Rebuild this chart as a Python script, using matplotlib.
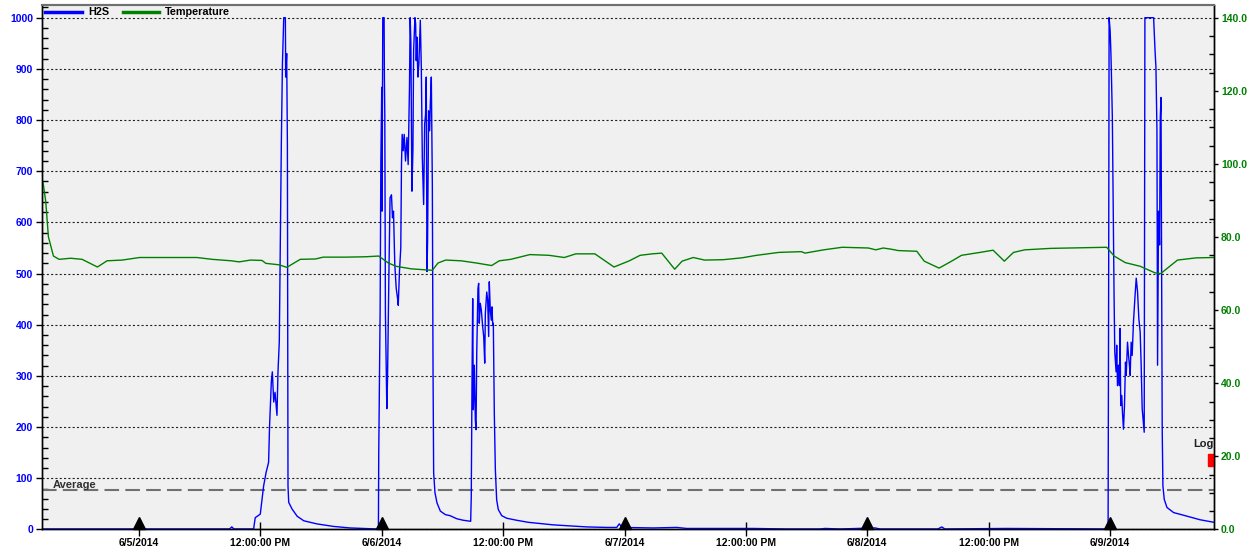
import matplotlib
matplotlib.use("Agg")
import matplotlib.pyplot as plt
from matplotlib.ticker import MultipleLocator, FormatStrFormatter
from matplotlib.lines import Line2D
from matplotlib.patches import Rectangle

# hours counted from 6/5/2014 00:00
h2s_hours = [-9.59, 8.95, 9.17, 9.39, 11.33, 11.49, 11.99, 12.16, 12.32, 12.56, 12.81, 12.91,
             13.08, 13.18, 13.32, 13.45, 13.64, 13.74, 13.87, 13.97, 14.07, 14.18, 14.31,
             14.47, 14.50, 14.60, 14.67, 14.73, 14.80, 15.13, 15.63, 16.29, 17.57, 19.21,
             20.86, 23.50, 23.67, 23.70, 23.84, 23.91, 24.00, 24.03, 24.10, 24.23, 24.26,
             24.30, 24.36, 24.50, 24.57, 24.70, 24.82, 24.96, 25.06, 25.16, 25.29, 25.43,
             25.56, 25.63, 25.75, 25.88, 25.95, 26.02, 26.12, 26.22, 26.35, 26.49, 26.61,
             26.74, 26.81, 26.88, 26.98, 27.08, 27.15, 27.28, 27.35, 27.41, 27.47, 27.57,
             27.67, 27.81, 27.91, 28.01, 28.14, 28.24, 28.33, 28.40, 28.47, 28.53, 28.63,
             28.73, 28.80, 28.90, 29.00, 29.07, 29.13, 29.26, 29.46, 29.79, 30.29, 30.75,
             31.41, 32.06, 32.79, 32.85, 32.92, 32.99, 33.05, 33.15, 33.25, 33.32, 33.39,
             33.51, 33.58, 33.64, 33.74, 33.84, 33.98, 34.08, 34.18, 34.24, 34.38, 34.47,
             34.57, 34.63, 34.73, 34.83, 34.90, 34.97, 35.03, 35.13, 35.23, 35.36, 35.52,
             35.86, 36.35, 37.34, 38.49, 40.96, 44.26, 46.24, 47.23, 47.48, 47.75, 50.85,
             53.16, 54.15, 60.73, 64.03, 67.33, 67.82, 69.30, 72.76, 73.26, 78.99, 79.36,
             79.68, 85.68, 95.67, 95.81, 95.87, 95.91, 96.01, 96.08, 96.13, 96.23, 96.33,
             96.40, 96.47, 96.60, 96.66, 96.74, 96.84, 96.93, 96.99, 97.06, 97.16, 97.23,
             97.33, 97.43, 97.53, 97.60, 97.73, 97.83, 97.92, 97.99, 98.09, 98.19, 98.32,
             98.46, 98.59, 98.72, 98.85, 98.98, 99.08, 99.18, 99.32, 99.38, 99.45, 100.31,
             100.45, 100.54, 100.64, 100.70, 100.80, 100.90, 100.97, 101.04, 101.09, 101.16,
             101.23, 101.36, 101.63, 102.29, 103.24, 104.90, 106.28]
h2s_ppm = [1, 1, 5, 1, 1, 23, 30, 59, 85, 111, 131, 203,
           288, 308, 249, 268, 223, 308, 367, 557, 753, 910, 1000,
           1000, 884, 930, 753, 85, 53, 40, 26, 17, 11, 6,
           3, 1, 7, 144, 432, 720, 864, 622, 1000, 1000, 884,
           811, 425, 236, 295, 491, 648, 654, 609, 622, 517, 471,
           452, 438, 504, 550, 713, 772, 740, 772, 720, 766, 713,
           864, 1000, 949, 661, 740, 936, 1000, 988, 916, 962, 884,
           910, 995, 903, 726, 635, 792, 811, 884, 504, 563, 818,
           779, 831, 884, 674, 308, 111, 72, 52, 36, 29, 27,
           21, 18, 16, 65, 282, 451, 234, 321, 214, 195, 344,
           471, 481, 403, 442, 429, 396, 377, 325, 422, 464, 448,
           377, 484, 429, 409, 435, 399, 403, 224, 117, 58, 39,
           27, 22, 18, 14, 9, 5, 4, 4, 11, 4, 3,
           4, 2, 2, 1, 1, 2, 1, 3, 1, 1, 5,
           1, 2, 1, 1, 530, 1000, 975, 936, 897, 805, 589,
           458, 347, 308, 360, 281, 321, 281, 393, 242, 262, 229,
           196, 242, 327, 301, 366, 340, 321, 301, 366, 340, 406,
           452, 491, 465, 412, 386, 321, 236, 203, 190, 1000, 1000,
           936, 903, 779, 321, 622, 556, 805, 844, 569, 196,
           85, 59, 43, 33, 28, 19, 14]

temp_hours = [-9.48, -9.22, -8.96, -8.46, -7.90, -6.76, -5.63, -4.11, -3.16, -1.65, 0.05,
              2.70, 5.72, 7.24, 9.13, 9.89, 11.02, 12.16, 12.54, 13.86, 14.61, 15.94,
              17.45, 18.21, 20.48, 22.37, 23.70, 24.65, 25.40, 26.91, 29.00, 29.56,
              30.32, 31.83, 33.35, 34.86, 35.62, 36.75, 38.65, 40.54, 42.05, 43.18,
              45.07, 46.96, 48.48, 49.54, 50.75, 51.68, 52.96, 53.69, 54.80, 55.91,
              57.75, 59.58, 61.06, 63.27, 65.48, 65.84, 67.69, 69.53, 72.11, 72.84,
              73.58, 74.31, 75.06, 76.90, 77.63, 79.10, 80.21, 81.32, 83.15, 84.44,
              85.55, 86.46, 87.57, 90.15, 95.67, 96.41, 97.51, 98.98, 100.45, 101.01,
              102.67, 104.51, 106.28]
temp_f = [94.8, 89.7, 80.1, 74.8, 73.9, 74.2, 73.9, 71.8, 73.5, 73.7, 74.4,
          74.4, 74.4, 73.9, 73.5, 73.2, 73.7, 73.6, 72.8, 72.4, 71.7, 73.9,
          74.0, 74.5, 74.5, 74.6, 74.8, 72.9, 72.0, 71.3, 70.9, 72.9,
          73.7, 73.5, 72.9, 72.2, 73.5, 73.9, 75.2, 75.0, 74.4, 75.4,
          75.4, 71.8, 73.5, 75.0, 75.4, 75.6, 71.2, 73.4, 74.4, 73.7,
          73.8, 74.3, 75.0, 75.8, 76.0, 75.6, 76.5, 77.2, 77.0, 76.5,
          77.0, 76.7, 76.3, 76.1, 73.4, 71.5, 73.2, 75.0, 75.8, 76.4,
          73.4, 75.8, 76.5, 76.9, 77.2, 74.8, 73.0, 72.0, 70.2, 70.0,
          73.7, 74.3, 74.4]

tick_hours = [0, 12, 24, 36, 48, 60, 72, 84, 96]
tick_labels = ["6/5/2014", "12:00:00 PM", "6/6/2014", "12:00:00 PM", "6/7/2014",
               "12:00:00 PM", "6/8/2014", "12:00:00 PM", "6/9/2014"]
day_hours = [0, 24, 48, 72, 96]
average_ppm = 78

plt.rcParams['font.family'] = ['Liberation Sans', 'DejaVu Sans']
plt.rcParams['font.weight'] = 'bold'
plt.rcParams['lines.scale_dashes'] = False

fig = plt.figure(figsize=(12.54, 5.52), dpi=100)
ax = fig.add_axes([0.0335, 0.0408, 0.9346, 0.9507])
ax.set_facecolor('#f0f0f0')

ax.plot(h2s_hours, h2s_ppm, color='#0000ff', lw=1, zorder=3)
ax.axhline(average_ppm, color='#707070', lw=1.5, linestyle=(0, (10.5, 4.5)), zorder=2)
ax.text(-8.5, average_ppm + 4, 'Average', fontsize=8, color='#303030', va='baseline')

ax.set_xlim(-9.59, 106.28)
ax.set_ylim(0, 1025.4)
ax.yaxis.set_major_locator(MultipleLocator(100))
ax.yaxis.set_minor_locator(MultipleLocator(20))
ax.grid(axis='y', which='major', color='#202020', linestyle=(0, (1.5, 1.6)), lw=0.8)
ax.set_xticks(tick_hours)
ax.set_xticklabels(tick_labels)

ax.tick_params(axis='x', direction='inout', length=10, width=1, pad=1, labelsize=7.5)
ax.tick_params(axis='y', which='major', direction='out', length=4.5, width=1, pad=2,
               labelsize=7.5, labelcolor='#0000ff')
ax.tick_params(axis='y', which='minor', direction='in', length=4.5, width=1)

# day markers
ax.plot(day_hours, [0.0115] * len(day_hours), transform=ax.get_xaxis_transform(),
        marker='^', ms=8, color='black', ls='none', clip_on=False, zorder=6)

ax2 = ax.twinx()
ax2.plot(temp_hours, temp_f, color='#008000', lw=1)
ax2.set_ylim(0, 143.56)
ax2.yaxis.set_major_locator(MultipleLocator(20))
ax2.yaxis.set_minor_locator(MultipleLocator(5))
ax2.yaxis.set_major_formatter(FormatStrFormatter('%.1f'))
ax2.tick_params(axis='y', which='major', direction='out', length=3, width=1, pad=2,
                labelsize=7.5, labelcolor='#008000')
ax2.tick_params(axis='y', which='minor', direction='in', length=3.6, width=1)

for a in (ax, ax2):
    for side in ('left', 'right', 'bottom'):
        a.spines[side].set_color('black')
        a.spines[side].set_linewidth(1)
    a.spines['top'].set_color('#707070')
    a.spines['top'].set_linewidth(1.5)

ax2.text(1.0, 0.157, 'Log', transform=ax2.transAxes, ha='right', va='baseline',
         fontsize=8, color='#202020')
ax2.add_patch(Rectangle((0.9951, 0.1216), 0.0049, 0.0217, transform=ax2.transAxes,
                        color='red', clip_on=False))

handles = [Line2D([], [], color='#0000ff', lw=2.5), Line2D([], [], color='#008000', lw=2.5)]
ax2.legend(handles, ['H2S', 'Temperature'], loc='center left', bbox_to_anchor=(0.0026, 0.9855),
           ncol=2, frameon=False, fontsize=7.8, borderpad=0, borderaxespad=0,
           handlelength=3.4, handletextpad=0.55, columnspacing=1.25)

fig.savefig('out.png', dpi=100)
